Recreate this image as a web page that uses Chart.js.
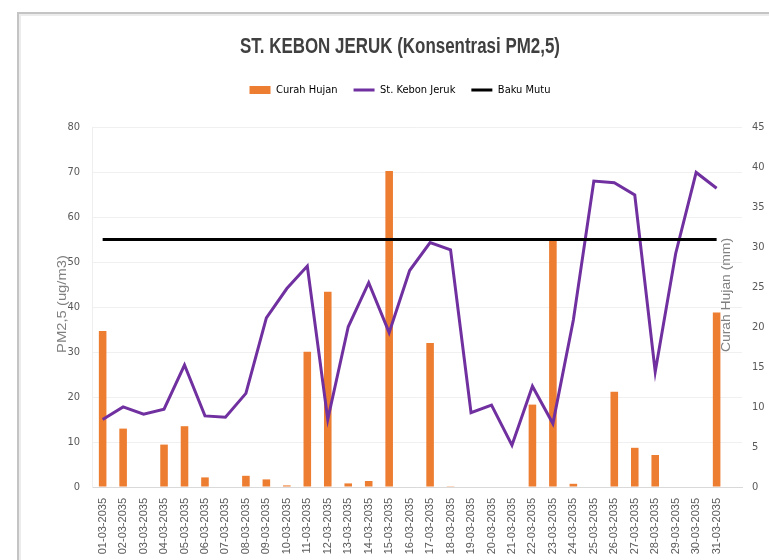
<!DOCTYPE html>
<html>
<head>
<meta charset="utf-8">
<script src="https://cdn.jsdelivr.net/npm/chart.js@4.4.1/dist/chart.umd.min.js"></script>
<style>
  html, body { margin: 0; padding: 0; background: #ffffff; }
  #wrap { position: relative; width: 769px; height: 560px; overflow: hidden; }
  #frame { position: absolute; left: 17px; top: 12px; width: 800px; height: 600px;
           border-top: 2px solid #c4c4c4; border-left: 2px solid #c4c4c4; }
  #frame2 { position: absolute; left: 19px; top: 14px; width: 800px; height: 600px;
           border-top: 2px solid #ececec; border-left: 2px solid #ececec; }
  canvas { position: absolute; left: 0; top: 0; }
</style>
</head>
<body>
<div id="wrap">
  <div id="frame"></div>
  <div id="frame2"></div>
  <canvas id="c" width="769" height="560"></canvas>
</div>
<script>
// ---------- data ----------
const dates = ["01-03-2035","02-03-2035","03-03-2035","04-03-2035","05-03-2035","06-03-2035","07-03-2035","08-03-2035","09-03-2035","10-03-2035","11-03-2035","12-03-2035","13-03-2035","14-03-2035","15-03-2035","16-03-2035","17-03-2035","18-03-2035","19-03-2035","20-03-2035","21-03-2035","22-03-2035","23-03-2035","24-03-2035","25-03-2035","26-03-2035","27-03-2035","28-03-2035","29-03-2035","30-03-2035","31-03-2035"];
const curahHujan = [19.5, 7.3, 0, 5.3, 7.6, 1.2, 0, 1.4, 0.95, 0.2, 16.9, 24.4, 0.45, 0.75, 39.5, 0, 18.0, 0.1, 0, 0, 0, 10.3, 31.0, 0.4, 0, 11.9, 4.9, 4.0, 0, 0, 21.8];
const stKebonJeruk = [15.0, 17.8, 16.2, 17.3, 27.1, 15.8, 15.5, 20.8, 37.6, 44.1, 49.1, 15.0, 35.6, 45.4, 34.3, 48.1, 54.3, 52.7, 16.5, 18.2, 9.3, 22.4, 14.1, 37.1, 68.0, 67.6, 64.9, 25.6, 51.9, 69.9, 66.4];
const bakuMutu = [55, 55, 55, 55, 55, 55, 55, 55, 55, 55, 55, 55, 55, 55, 55, 55, 55, 55, 55, 55, 55, 55, 55, 55, 55, 55, 55, 55, 55, 55, 55];
const leftTicks = [0, 10, 20, 30, 40, 50, 60, 70, 80];
const rightTicks = [0, 5, 10, 15, 20, 25, 30, 35, 40, 45];
const seriesNames = ["Curah Hujan", "St. Kebon Jeruk", "Baku Mutu"];
const chartTitle = "ST. KEBON JERUK (Konsentrasi PM2,5)";
const leftAxisTitle = "PM2,5 (ug/m3)";
const rightAxisTitle = "Curah Hujan (mm)";

// ---------- styles ----------
const NARROW = '"Liberation Sans Narrow", "DejaVu Sans Condensed", "Roboto", sans-serif';
const SANS = '"Liberation Sans", "Arial", sans-serif';
const ORANGE = '#ED7D31', PURPLE = '#7030A0';

const xy = arr => arr.map((v, i) => ({ x: i + 1, y: v }));

function drawSqueezed(ctx, text, cx, cy, font, color, targetWidth, angle) {
  ctx.save();
  ctx.font = font;
  ctx.fillStyle = color;
  ctx.textAlign = 'center';
  ctx.textBaseline = 'middle';
  const w = ctx.measureText(text).width;
  ctx.translate(cx, cy);
  if (angle) ctx.rotate(angle);
  ctx.scale(targetWidth / w, 1);
  ctx.fillText(text, 0, 0);
  ctx.restore();
}

const extras = {
  id: 'extras',
  beforeLayout(chart) {
    const lg = chart.legend;
    if (lg && !lg._patched) {
      const orig = lg.fit.bind(lg);
      lg.fit = function () { orig(); this.height += 21.5; };
      lg._patched = true;
    }
  },
  afterDraw(chart) {
    const ctx = chart.ctx;
    drawSqueezed(ctx, chartTitle, 400, 47, 'bold 22px ' + SANS, '#404040', 320, 0);
    drawSqueezed(ctx, leftAxisTitle, 62.5, 304, '12.5px ' + SANS, '#808080', 98, -Math.PI / 2);
    drawSqueezed(ctx, rightAxisTitle, 727, 295, '12.5px ' + SANS, '#808080', 114, -Math.PI / 2);
  }
};

new Chart(document.getElementById('c'), {
  type: 'bar',
  data: {
    datasets: [
      { type: 'bar', label: seriesNames[0], data: xy(curahHujan), yAxisID: 'y1',
        backgroundColor: ORANGE, borderWidth: 0, barPercentage: 0.37, categoryPercentage: 1, order: 3 },
      { type: 'line', label: seriesNames[1], data: xy(stKebonJeruk), yAxisID: 'y',
        borderColor: PURPLE, borderWidth: 3, pointRadius: 0, tension: 0, fill: false, order: 2 },
      { type: 'line', label: seriesNames[2], data: xy(bakuMutu), yAxisID: 'y',
        borderColor: '#000000', borderWidth: 3, pointRadius: 0, tension: 0, fill: false, order: 1 }
    ]
  },
  options: {
    responsive: false,
    animation: false,
    devicePixelRatio: 1,
    layout: { padding: { top: 68.5, left: 31, right: 0, bottom: 0 } },
    plugins: {
      tooltip: { enabled: false },
      title: { display: false },
      legend: {
        display: true, position: 'top',
        labels: {
          usePointStyle: true, pointStyleWidth: 21, boxHeight: 8, padding: 16,
          color: '#595959', font: { family: NARROW, size: 11 },
          generateLabels: () => [
            { text: seriesNames[0], fillStyle: ORANGE, strokeStyle: ORANGE, lineWidth: 0, pointStyle: 'rect', datasetIndex: 0 },
            { text: seriesNames[1], fillStyle: PURPLE, strokeStyle: PURPLE, lineWidth: 3, pointStyle: 'line', datasetIndex: 1 },
            { text: seriesNames[2], fillStyle: '#000', strokeStyle: '#000', lineWidth: 3, pointStyle: 'line', datasetIndex: 2 }
          ]
        }
      }
    },
    scales: {
      x: {
        type: 'linear', position: 'bottom', min: 0.48, max: 32.24, offset: false,
        afterBuildTicks: s => { s.ticks = dates.map((d, i) => ({ value: i + 1 })); },
        afterFit: s => { s.height = 73; },
        grid: { display: false },
        border: { display: true, color: '#d9d9d9', width: 1 },
        ticks: {
          autoSkip: false, maxRotation: 90, minRotation: 90, padding: 3,
          color: '#595959', font: { family: SANS, size: 11 },
          callback: v => dates[v - 1] || ''
        }
      },
      y: {
        position: 'left', min: 0, max: 80,
        afterBuildTicks: s => { s.ticks = leftTicks.map(v => ({ value: v })); },
        afterFit: s => { s.width = 61; },
        grid: { color: '#f0f0f0', drawTicks: false },
        border: { display: true, color: '#eeeeee' },
        ticks: { padding: 12, color: '#595959', font: { family: NARROW, size: 11 } }
      },
      y1: {
        position: 'right', min: 0, max: 45,
        afterBuildTicks: s => { s.ticks = rightTicks.map(v => ({ value: v })); },
        afterFit: s => { s.width = 27; },
        grid: { drawOnChartArea: false, drawTicks: false },
        border: { display: false },
        ticks: { padding: 10, color: '#595959', font: { family: NARROW, size: 11 } }
      }
    }
  },
  plugins: [extras]
});
</script>
</body>
</html>
